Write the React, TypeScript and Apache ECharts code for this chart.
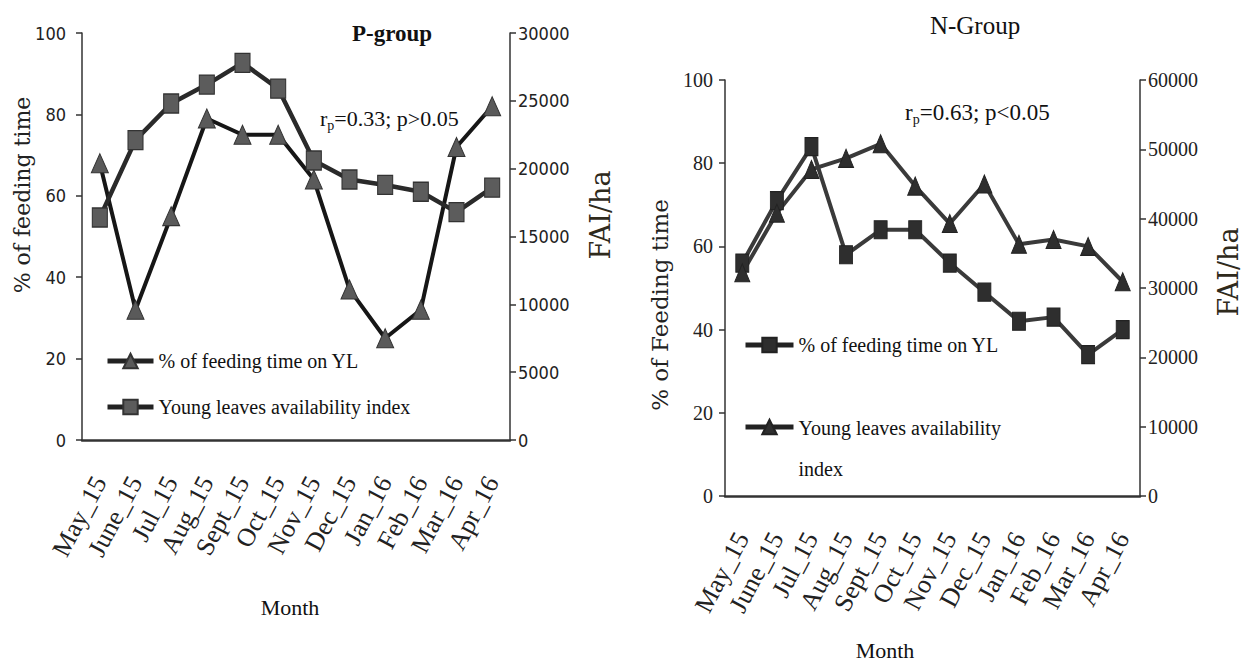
import React, { useEffect, useRef } from "react";
import * as echarts from "echarts";

const categories = ["May_15", "June_15", "Jul_15", "Aug_15", "Sept_15", "Oct_15", "Nov_15", "Dec_15", "Jan_16", "Feb_16", "Mar_16", "Apr_16"];
const pFeeding = [68, 32, 55, 79, 75, 75, 64, 37, 25, 32, 72, 82];
const pYlai = [16400, 22100, 24800, 26200, 27800, 25900, 20600, 19200, 18800, 18300, 16800, 18600];
const nFeeding = [56, 71, 84, 58, 64, 64, 56, 49, 42, 43, 34, 40];
const nYlai = [32200, 40800, 47100, 48700, 50800, 44700, 39300, 45000, 36300, 37000, 36000, 30900];
const pctTicks = { min: 0, max: 100, interval: 20 };
const pFaiTicks = { min: 0, max: 30000, interval: 5000 };
const nFaiTicks = { min: 0, max: 60000, interval: 10000 };

const SERIF = '"Liberation Serif", "Times New Roman", serif';
const NARROW = '"Liberation Sans Narrow", "DejaVu Sans Condensed", "Liberation Sans", sans-serif';
const WIDE = '"DejaVu Serif", serif';

export default function App() {
  const ref = useRef<HTMLDivElement>(null);
  useEffect(() => {
    if (!ref.current) return;
    const chart = echarts.init(ref.current, undefined, { renderer: "svg" });
    const axisLine = { show: true, lineStyle: { color: "#333", width: 1.5 } };
    const yCommon = (grid: number, pos: string, t: any, font: string, size: number, margin: number) => ({
      type: "value",
      gridIndex: grid,
      position: pos,
      min: t.min,
      max: t.max,
      interval: t.interval,
      axisLine,
      axisTick: { show: true, length: 6, lineStyle: { color: "#333", width: 1.5 } },
      splitLine: { show: false },
      axisLabel: { fontFamily: font, fontSize: size, color: "#222", margin, formatter: (v: number) => String(v) },
    });
    const xCommon = (grid: number, margin: number) => ({
      type: "category",
      gridIndex: grid,
      data: categories,
      boundaryGap: true,
      axisLine: { show: true, lineStyle: { color: "#333", width: 2.5 } },
      axisTick: { show: false },
      axisLabel: { rotate: 62, fontFamily: SERIF, fontSize: 26, color: "#222", margin, interval: 0 },
    });
    const legendText = { fontFamily: SERIF, fontSize: 20, color: "#111" };
    const legendLine = { width: 5, color: "#222" };
    const option: any = {
      animation: false,
      backgroundColor: "#ffffff",
      grid: [
        { left: 82, top: 33, width: 428, height: 407 },
        { left: 725, top: 80, width: 415, height: 416 },
      ],
      xAxis: [xCommon(0, 38), xCommon(1, 38)],
      yAxis: [
        yCommon(0, "left", pctTicks, NARROW, 18, 16),
        yCommon(0, "right", pFaiTicks, NARROW, 18, 8),
        yCommon(1, "left", pctTicks, SERIF, 20, 12),
        yCommon(1, "right", nFaiTicks, SERIF, 20, 8),
      ],
      legend: [
        {
          orient: "vertical",
          left: 100,
          top: 346,
          itemWidth: 46,
          itemHeight: 18,
          itemGap: 26,
          lineStyle: legendLine,
          data: ["P: % of feeding time on YL", "P: Young leaves availability index"],
          formatter: (n: string) => n.replace("P: ", ""),
          textStyle: legendText,
        },
        {
          orient: "vertical",
          left: 738,
          top: 330,
          itemWidth: 48,
          itemHeight: 18,
          lineStyle: legendLine,
          data: ["N: % of feeding time on YL"],
          formatter: (n: string) => n.replace("N: ", ""),
          textStyle: legendText,
        },
        {
          orient: "vertical",
          left: 738,
          top: 413,
          itemWidth: 48,
          itemHeight: 18,
          lineStyle: legendLine,
          data: ["N: Young leaves availability index"],
          formatter: () => "{a|Young leaves availability}\n{b|index}",
          textStyle: {
            ...legendText,
            rich: {
              a: { ...legendText, lineHeight: 84, verticalAlign: "bottom" },
              b: { ...legendText, lineHeight: 62, verticalAlign: "middle" },
            },
          },
        },
      ],
      series: [
        {
          name: "P: % of feeding time on YL",
          type: "line",
          xAxisIndex: 0,
          yAxisIndex: 0,
          data: pFeeding,
          symbol: "triangle",
          symbolSize: [17, 19],
          lineStyle: { color: "#161616", width: 4 },
          itemStyle: { color: "#5a5a5a", borderColor: "#333", borderWidth: 1 },
        },
        {
          name: "P: Young leaves availability index",
          type: "line",
          xAxisIndex: 0,
          yAxisIndex: 1,
          data: pYlai,
          symbol: "rect",
          symbolSize: [15, 19],
          lineStyle: { color: "#2a2a2a", width: 4.5 },
          itemStyle: { color: "#5c5c5c", borderColor: "#333", borderWidth: 1.2 },
        },
        {
          name: "N: % of feeding time on YL",
          type: "line",
          xAxisIndex: 1,
          yAxisIndex: 2,
          data: nFeeding,
          symbol: "rect",
          symbolSize: [13, 18],
          lineStyle: { color: "#3a3a3a", width: 4 },
          itemStyle: { color: "#2e2e2e", borderColor: "#222", borderWidth: 1 },
        },
        {
          name: "N: Young leaves availability index",
          type: "line",
          xAxisIndex: 1,
          yAxisIndex: 3,
          data: nYlai,
          symbol: "triangle",
          symbolSize: [15, 18],
          lineStyle: { color: "#3a3a3a", width: 4 },
          itemStyle: { color: "#2e2e2e", borderColor: "#222", borderWidth: 1 },
        },
      ],
      graphic: [
        { type: "text", x: 392, y: 33, style: { text: "P-group", fontFamily: SERIF, fontSize: 23, fontWeight: "bold", fill: "#111", align: "center", verticalAlign: "middle" } },
        { type: "text", x: 975, y: 25, style: { text: "N-Group", fontFamily: SERIF, fontSize: 25, fill: "#111", align: "center", verticalAlign: "middle" } },
        {
          type: "text", x: 320, y: 118,
          style: {
            text: "{a|r}{s|p}{a|=0.33; p>0.05}",
            verticalAlign: "middle",
            rich: { a: { fontFamily: SERIF, fontSize: 22, fill: "#111" }, s: { fontFamily: SERIF, fontSize: 14, fill: "#111", padding: [14, 0, 0, 0] } },
          },
        },
        {
          type: "text", x: 905, y: 112,
          style: {
            text: "{a|r}{s|p}{a|=0.63; p<0.05}",
            verticalAlign: "middle",
            rich: { a: { fontFamily: SERIF, fontSize: 23, fill: "#111" }, s: { fontFamily: SERIF, fontSize: 14, fill: "#111", padding: [14, 0, 0, 0] } },
          },
        },
        { type: "text", x: 22, y: 195, rotation: Math.PI / 2, style: { text: "% of feeding time", fontFamily: WIDE, fontSize: 22, fill: "#222", align: "center", verticalAlign: "middle" } },
        { type: "text", x: 660, y: 305, rotation: Math.PI / 2, style: { text: "% of Feeding time", fontFamily: WIDE, fontSize: 23, fill: "#222", align: "center", verticalAlign: "middle" } },
        { type: "text", x: 600, y: 215, rotation: Math.PI / 2, style: { text: "FAI/ha", fontFamily: WIDE, fontSize: 27, fill: "#2f2a1c", align: "center", verticalAlign: "middle" } },
        { type: "text", x: 1228, y: 272, rotation: Math.PI / 2, style: { text: "FAI/ha", fontFamily: WIDE, fontSize: 27, fill: "#2f2a1c", align: "center", verticalAlign: "middle" } },
        { type: "text", x: 290, y: 607, style: { text: "Month", fontFamily: SERIF, fontSize: 22, fill: "#111", align: "center", verticalAlign: "middle" } },
        { type: "text", x: 885, y: 650, style: { text: "Month", fontFamily: SERIF, fontSize: 22, fill: "#111", align: "center", verticalAlign: "middle" } },
      ],
    };
    chart.setOption(option);
    return () => chart.dispose();
  }, []);
  return <div ref={ref} style={{ position: "absolute", left: 0, top: 0, width: 1249, height: 668 }} />;
}
